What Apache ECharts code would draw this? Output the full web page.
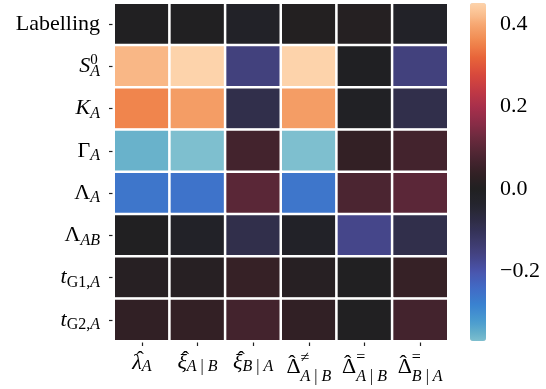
<!DOCTYPE html>
<html><head><meta charset="utf-8">
<script src="https://cdn.jsdelivr.net/npm/echarts@6/dist/echarts.min.js"></script>
<style>html,body{margin:0;padding:0;background:#fff}#c{width:546px;height:389px}</style>
</head><body><div id="c"></div>
<script>
// ---- data ----
const rowLabels = ['Labelling', 'S_A^0', 'K_A', 'Gamma_A', 'Lambda_A', 'Lambda_AB', 't_G1A', 't_G2A'];
const colLabels = ['lambda_A', 'xi_A|B', 'xi_B|A', 'Delta_neq_A|B', 'Delta_eq_A|B', 'Delta_eq_B|A'];
const rowLabelling = [0.0, 0.0, -0.02, 0.005, 0.01, -0.02];
const rowS0A      = [0.415, 0.451, -0.15, 0.451, -0.005, -0.15];
const rowKA       = [0.355, 0.385, -0.085, 0.385, -0.01, -0.085];
const rowGammaA   = [-0.352, -0.368, 0.065, -0.368, 0.04, 0.065];
const rowLambdaA  = [-0.26, -0.255, 0.10, -0.26, 0.078, 0.102];
const rowLambdaAB = [0.0, -0.02, -0.085, -0.02, -0.165, -0.085];
const rowTG1A     = [0.015, 0.015, 0.045, 0.015, 0.0, 0.045];
const rowTG2A     = [0.035, 0.04, 0.065, 0.035, 0.0, 0.065];
const matrix = [rowLabelling, rowS0A, rowKA, rowGammaA, rowLambdaA, rowLambdaAB, rowTG1A, rowTG2A];
const colorbarTicks = [0.4, 0.2, 0.0, -0.2];
const vmin = -0.368, vmax = 0.451;

// ---- label markup ----
const yRich = {
  'Labelling': '{r|Labelling}',
  'S_A^0': '{m|S}{sup|0}{sub|A}',
  'K_A': '{m|K}{sub|A}',
  'Gamma_A': '{r|Γ}{sub|A}',
  'Lambda_A': '{r|Λ}{sub|A}',
  'Lambda_AB': '{r|Λ}{sub|AB}',
  't_G1A': '{m|t}{subr|G1,}{sub|A}',
  't_G2A': '{m|t}{subr|G2,}{sub|A}'
};
const xRich = {
  'lambda_A': '{xhat|\u2009ˆ}{xm|λ}{xsub|A}',
  'xi_A|B': '{xhat|\u2009ˆ}{xm|ξ}{xsub|A}{xsubr| | }{xsub|B}',
  'xi_B|A': '{xhat|\u2009ˆ}{xm|ξ}{xsub|B}{xsubr| | }{xsub|A}',
  'Delta_neq_A|B': '{xhat|\u200Aˆ}{xr|Δ}{xsup|≠}{xsub2|A}{xsubr2| | }{xsub2|B}',
  'Delta_eq_A|B': '{xhat|\u200Aˆ}{xr|Δ}{xsup|=}{xsub2|A}{xsubr2| | }{xsub2|B}',
  'Delta_eq_B|A': '{xhat|\u200Aˆ}{xr|Δ}{xsup|=}{xsub2|B}{xsubr2| | }{xsub2|A}'
};

// ---- colormap (icefire-like, sampled) ----
const stops = [
  [-0.368, '#7ebfcf'], [-0.35, '#66b0ca'], [-0.32, '#4a9ccf'], [-0.28, '#3a82d0'],
  [-0.24, '#416bc6'], [-0.20, '#4a55ad'], [-0.16, '#444384'], [-0.12, '#3a3865'],
  [-0.08, '#2f2d48'], [-0.04, '#25252f'], [0.0, '#202021'], [0.04, '#332025'],
  [0.08, '#4c2531'], [0.12, '#682a3d'], [0.16, '#8a2c47'], [0.20, '#a82f4b'],
  [0.24, '#c33a44'], [0.28, '#d94a3c'], [0.32, '#e8653a'], [0.36, '#f18a50'],
  [0.40, '#f7a872'], [0.42, '#fabd8c'], [0.451, '#fdd3ab']
];
function hex2rgb(h){return [parseInt(h.slice(1,3),16),parseInt(h.slice(3,5),16),parseInt(h.slice(5,7),16)];}
function cmap(v){
  if (v <= stops[0][0]) return stops[0][1];
  for (let i=1;i<stops.length;i++){
    if (v <= stops[i][0]){
      const a=stops[i-1], b=stops[i];
      const t=(v-a[0])/(b[0]-a[0]);
      const ca=hex2rgb(a[1]), cb=hex2rgb(b[1]);
      return 'rgb('+ca.map((c,k)=>Math.round(c+(cb[k]-c)*t)).join(',')+')';
    }
  }
  return stops[stops.length-1][1];
}
const N = 120;
const colors = [];
for (let i=0;i<N;i++) colors.push(cmap(vmin + (vmax-vmin)*i/(N-1)));

const data = [];
matrix.forEach((row, r) => row.forEach((v, c) => data.push([c, r, v])));

const F = 'Liberation Serif';
function st(size, italic, pad, extra){
  return Object.assign({fontFamily: F, fontStyle: italic ? 'italic' : 'normal', fontSize: size,
    color: '#000', align: 'left', padding: pad}, extra || {});
}
const rich = {
  m: st(22, true, [0,0,0,0]),
  r: st(22, false, [0,0,0,0]),
  sub: st(16, true, [10,0,0,0]),
  subr: st(16, false, [10,0,0,0]),
  sup: st(15, false, [0,0,13,0], {width: 0}),
  xm: st(22, true, [0,0,0,0]),
  xr: st(22, false, [0,0,0,0]),
  xsub: st(16, true, [8,0,0,0]),
  xsubr: st(16, false, [8,0,0,0]),
  xsub2: st(16, true, [20,0,0,0]),
  xsubr2: st(16, false, [20,0,0,0]),
  xsup: st(16, false, [0,0,18,0], {width: 0}),
  xhat: st(22, false, [0,0,6,0], {width: 0})
};

const chart = echarts.init(document.getElementById('c'), null, {renderer: 'canvas'});
chart.setOption({
  animation: false,
  backgroundColor: '#fff',
  grid: [
    {left: 114, top: 3, width: 334, height: 338, containLabel: false},
    {left: 470, top: 3, width: 16, height: 338, containLabel: false}
  ],
  xAxis: [
    {type: 'category', gridIndex: 0, data: colLabels, position: 'bottom',
     axisLine: {show: false}, splitLine: {show: false},
     axisTick: {show: true, alignWithLabel: true, length: 5, lineStyle: {color: '#222', width: 1.2}},
     axisLabel: {margin: 8, interval: 0, hideOverlap: false, formatter: v => xRich[v], rich: rich, color: '#000'}},
    {type: 'value', gridIndex: 1, show: false, min: 0, max: 1}
  ],
  yAxis: [
    {type: 'category', gridIndex: 0, data: rowLabels, inverse: true,
     axisLine: {show: false}, splitLine: {show: false},
     axisTick: {show: true, alignWithLabel: true, length: 5, lineStyle: {color: '#222', width: 1.2}},
     axisLabel: {margin: 14, interval: 0, formatter: v => yRich[v], rich: rich, color: '#000'}},
    {type: 'value', gridIndex: 1, position: 'right', min: vmin, max: vmax,
     axisLine: {show: false}, splitLine: {show: false},
     axisTick: {show: true, length: 5, customValues: colorbarTicks, lineStyle: {color: '#222', width: 1.2}},
     axisLabel: {show: true, margin: 14, customValues: colorbarTicks,
       fontFamily: F, fontSize: 22, color: '#000',
       formatter: v => (v < 0 ? '\u2212' : '') + Math.abs(v).toFixed(1)}}
  ],
  visualMap: {
    type: 'continuous', min: vmin, max: vmax, seriesIndex: 0,
    left: 470, top: 3, itemWidth: 16, itemHeight: 338, padding: 0,
    calculable: false, orient: 'vertical', inRange: {color: colors},
    textStyle: {color: 'transparent'}
  },
  series: [{
    type: 'heatmap', xAxisIndex: 0, yAxisIndex: 0, data: data,
    itemStyle: {borderColor: '#fff', borderWidth: 2.5},
    emphasis: {disabled: true}
  }]
});
</script></body></html>
